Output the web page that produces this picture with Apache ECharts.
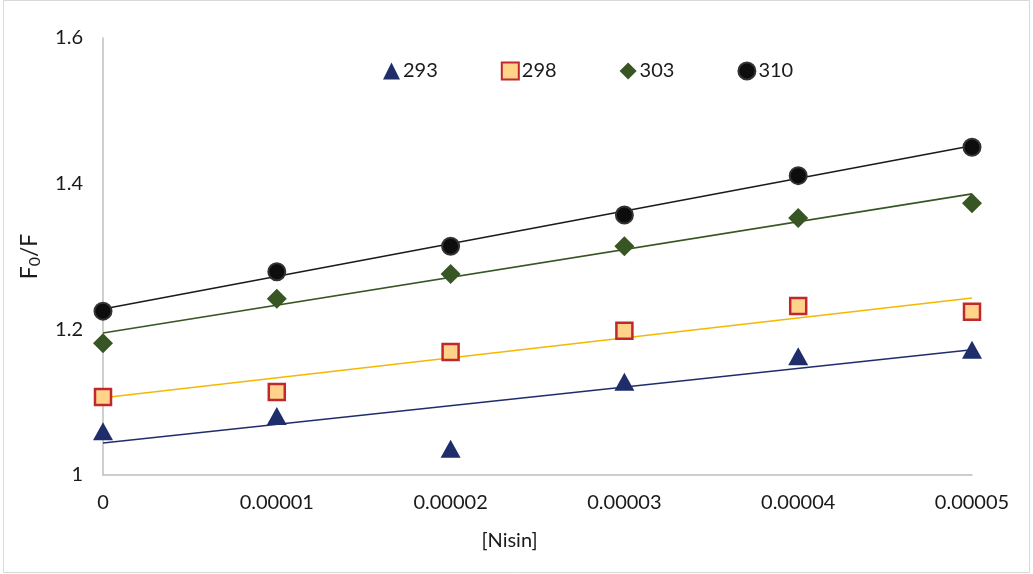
<!DOCTYPE html>
<html><head><meta charset="utf-8">
<script src="https://cdn.jsdelivr.net/npm/echarts@6/dist/echarts.min.js"></script>
<style>html,body{margin:0;padding:0;background:#fff}#c{width:1033px;height:574px}</style>
</head><body><div id="c"></div>
<script>
const xVals = [0, 0.00001, 0.00002, 0.00003, 0.00004, 0.00005];
const seriesNames = ['293', '298', '303', '310'];
const y293 = [1.060, 1.081, 1.036, 1.128, 1.163, 1.172];
const y298 = [1.107, 1.114, 1.169, 1.198, 1.232, 1.224];
const y303 = [1.181, 1.242, 1.276, 1.314, 1.353, 1.373];
const y310 = [1.225, 1.279, 1.314, 1.357, 1.411, 1.450];
// trendline endpoints (x=0 and x=0.00005)
const trend293 = [1.044, 1.172];
const trend298 = [1.106, 1.243];
const trend303 = [1.195, 1.386];
const trend310 = [1.228, 1.452];
const xTicks = ['0', '0.00001', '0.00002', '0.00003', '0.00004', '0.00005'];

const FONT = 'Lato';
const TXT = '#1a1a1a';
const pts = ys => xVals.map((x, i) => [x, ys[i]]);
const tl = t => [[xVals[0], t[0]], [xVals[xVals.length - 1], t[1]]];

const chart = echarts.init(document.getElementById('c'));
chart.setOption({
  animation: false,
  backgroundColor: '#fff',
  textStyle: { fontFamily: FONT },
  graphic: [{ type: 'rect', shape: { x: 3.5, y: 0.5, width: 1026, height: 572 }, style: { fill: 'none', stroke: '#d9d9d9', lineWidth: 1 }, silent: true }],
  grid: { left: 103, right: 61, top: 38, bottom: 99 },
  legend: {
    data: seriesNames,
    top: 56, left: 378,
    itemGap: 63, itemWidth: 17, itemHeight: 17,
    textStyle: { fontSize: 20, color: TXT, fontFamily: FONT, padding: [0, 0, 0, -2] }
  },
  xAxis: {
    type: 'value', min: 0, max: 0.00005, interval: 0.00001,
    name: '[Nisin]', nameLocation: 'middle', nameGap: 56,
    nameTextStyle: { fontSize: 20, color: TXT, fontFamily: FONT, padding: [0, 56, 0, 0] },
    axisLine: { lineStyle: { color: '#bfbfbf', width: 1.5 } },
    axisTick: { show: false }, splitLine: { show: false },
    axisLabel: { fontSize: 20, color: TXT, margin: 18, fontFamily: FONT,
      formatter: v => { const i = Math.round(v / 0.00001); return xTicks[i] ?? ''; } }
  },
  yAxis: {
    type: 'value', min: 1, max: 1.6, interval: 0.2,
    name: '{a|F}{s|0}{a|/F}', nameLocation: 'middle', nameGap: 60,
    nameTextStyle: { rich: { a: { fontSize: 23, color: TXT, fontFamily: FONT }, s: { fontSize: 16, color: TXT, fontFamily: FONT, verticalAlign: 'bottom', padding: [10, 0, 0, 0] } } },
    axisLine: { show: true, lineStyle: { color: '#bfbfbf', width: 1.5 } },
    axisTick: { show: false }, splitLine: { show: false },
    axisLabel: { fontSize: 20, color: TXT, margin: 20, fontFamily: FONT,
      formatter: v => (Math.abs(v - 1) < 1e-9 ? '1' : v.toFixed(1)) }
  },
  series: [
    { name: 't293', type: 'line', data: tl(trend293), showSymbol: false, lineStyle: { color: '#1f2d6b', width: 1.6 }, silent: true, z: 1 },
    { name: 't298', type: 'line', data: tl(trend298), showSymbol: false, lineStyle: { color: '#f5b800', width: 1.6 }, silent: true, z: 1 },
    { name: 't303', type: 'line', data: tl(trend303), showSymbol: false, lineStyle: { color: '#375623', width: 1.6 }, silent: true, z: 1 },
    { name: 't310', type: 'line', data: tl(trend310), showSymbol: false, lineStyle: { color: '#1a1a1a', width: 1.6 }, silent: true, z: 1 },
    { name: '293', type: 'scatter', data: pts(y293), symbol: 'triangle', symbolSize: [20, 18], itemStyle: { color: '#1f2d6b', opacity: 1 }, z: 3 },
    { name: '298', type: 'scatter', data: pts(y298), symbol: 'rect', symbolSize: 16, itemStyle: { color: '#ffd38a', borderColor: '#c0282d', borderWidth: 2.5, opacity: 1 }, z: 3 },
    { name: '303', type: 'scatter', data: pts(y303), symbol: 'diamond', symbolSize: 20, itemStyle: { color: '#375623', opacity: 1 }, z: 3 },
    { name: '310', type: 'scatter', data: pts(y310), symbol: 'circle', symbolSize: 17, itemStyle: { color: '#0d0d0d', borderColor: '#333', borderWidth: 2, opacity: 1 }, z: 3 }
  ]
});
</script></body></html>
